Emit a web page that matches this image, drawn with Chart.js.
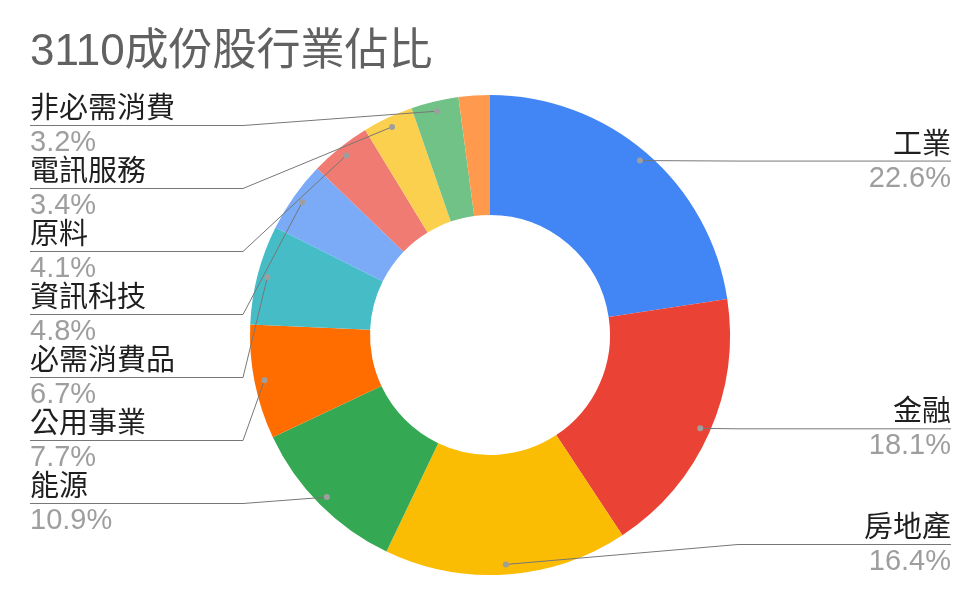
<!DOCTYPE html>
<html><head><meta charset="utf-8">
<script src="https://cdn.jsdelivr.net/npm/chart.js@4"></script>
<style>html,body{margin:0;padding:0;background:#fff;} #wrap{width:980px;height:607px;position:relative;}</style>
</head><body><div id="wrap"><canvas id="c" width="980" height="607"></canvas></div>
<script>
const titleText = '3110成份股行業佔比';
const categories = ['工業','金融','房地產','能源','公用事業','必需消費品','資訊科技','原料','電訊服務','非必需消費','其他'];
const shares = [22.6,18.1,16.4,10.9,7.7,6.7,4.8,4.1,3.4,3.2,2.1];
const colors = ['#4285F4','#EA4335','#FBBC04','#34A853','#FF6D01','#46BDC6','#7BAAF7','#F07B72','#FCD04F','#71C287','#FF994D'];

const FONT = '"Liberation Sans","Noto Sans CJK TC",sans-serif';

const labelPlugin = {
  id: 'outLabels',
  afterDraw(chart) {
    const ctx = chart.ctx;
    ctx.save();
    // title
    ctx.font = '44px ' + FONT;
    ctx.fillStyle = '#616161';
    ctx.textAlign = 'left';
    ctx.textBaseline = 'alphabetic';
    ctx.fillText(titleText, 30, 65);

    const meta = chart.getDatasetMeta(0);
    const items = [];
    meta.data.forEach((arc, i) => {
      if (shares[i] < 3) return;
      const mid = (arc.startAngle + arc.endAngle) / 2;
      const r = arc.outerRadius - 10;
      const px = arc.x + Math.cos(mid) * r, py = arc.y + Math.sin(mid) * r;
      items.push({ i, px, py, side: px < arc.x ? 'L' : 'R', cx: arc.x, R: arc.outerRadius });
    });
    const gap = 63, minY = 125, maxY = 544;
    ['L', 'R'].forEach(side => {
      const arr = items.filter(o => o.side === side).sort((a, b) => a.py - b.py);
      let prev = -Infinity;
      arr.forEach(o => { o.ly = Math.max(o.py, prev + gap, minY); prev = o.ly; });
      let next = Infinity;
      for (let k = arr.length - 1; k >= 0; k--) { const o = arr[k]; o.ly = Math.min(o.ly, next - gap, maxY); next = o.ly; }
    });
    items.forEach(o => {
      const left = o.side === 'L';
      const endX = left ? 30 : 951;
      const elbowX = left ? o.cx - o.R - 7 : o.cx + o.R + 8;
      ctx.strokeStyle = '#777777';
      ctx.lineWidth = 1;
      ctx.beginPath();
      ctx.moveTo(endX, o.ly + 0.5);
      ctx.lineTo(elbowX, o.ly + 0.5);
      ctx.lineTo(o.px, o.py);
      ctx.stroke();
      ctx.fillStyle = '#9e9e9e';
      ctx.beginPath();
      ctx.arc(o.px, o.py, 3, 0, Math.PI * 2);
      ctx.fill();
      ctx.textAlign = left ? 'left' : 'right';
      ctx.textBaseline = 'alphabetic';
      ctx.font = '29px ' + FONT;
      ctx.fillStyle = '#1f1f1f';
      ctx.fillText(categories[o.i], endX, o.ly - 7);
      ctx.fillStyle = '#9e9e9e';
      ctx.fillText(shares[o.i].toFixed(1) + '%', endX, o.ly + 26);
    });
    ctx.restore();
  }
};

new Chart(document.getElementById('c'), {
  type: 'doughnut',
  data: {
    labels: categories,
    datasets: [{ data: shares, backgroundColor: colors, borderWidth: 0, hoverOffset: 0 }]
  },
  options: {
    responsive: false,
    animation: false,
    cutout: '50%',
    layout: { padding: { top: 95, bottom: 32, left: 250, right: 250 } },
    plugins: { legend: { display: false }, tooltip: { enabled: false }, title: { display: false } }
  },
  plugins: [labelPlugin]
});
</script>
</body></html>
